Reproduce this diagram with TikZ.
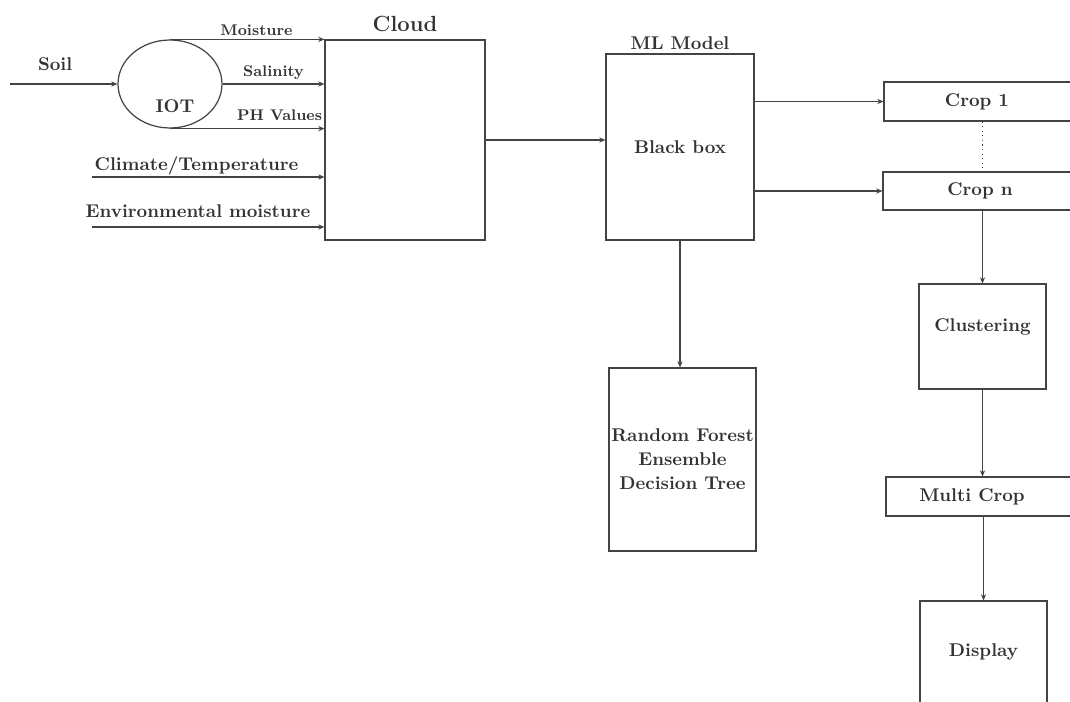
\documentclass[tikz,border=0pt]{standalone}
\usepackage{tikz}
\usetikzlibrary{arrows.meta}
\usetikzlibrary{positioning}
\usetikzlibrary{shapes.geometric}
\definecolor{LineGray}{HTML}{444444}
\definecolor{TextGray}{HTML}{333333}

\begin{document}
\begin{tikzpicture}[x=0.02cm,y=-0.02cm,
	box/.style={draw=LineGray,line width=0.7pt,rectangle,inner sep=0pt,
		font=\fontsize{10.5}{13.7}\selectfont\bfseries,text=TextGray},
	link/.style={draw=LineGray,line width=0.6pt,-{Stealth[length=3.5pt,width=3pt]}},
	tag/.style={font=\fontsize{10.5}{12}\selectfont\bfseries,text=TextGray,inner sep=1pt},
	smalltag/.style={font=\fontsize{8.8}{10}\selectfont\bfseries,text=TextGray,inner sep=1pt},
	]
	\useasboundingbox (0,0) rectangle (1070,702);
	\clip (0,0) rectangle (1070,702);

	% sensors and cloud
	\node[draw=LineGray,ellipse,line width=0.7pt,minimum width=2.08cm,minimum height=1.76cm,inner sep=0pt,
		label={[tag,xshift=0.1cm,yshift=-0.44cm]center:IOT}] (iot) at (170,84) {};
	\node[box,minimum width=3.2cm,minimum height=4cm,
		label={[font=\fontsize{12.5}{14}\selectfont\bfseries,text=TextGray,inner sep=4pt]above:Cloud}] (cloud) at (405,140) {};
	\coordinate (soilsrc) at (10,84);
	\coordinate (climsrc) at (92,177);
	\coordinate (envsrc) at (92,227);

	\draw[link] (soilsrc) -- (iot.west) node[tag,pos=0.42,above=6pt] {Soil};
	\draw[link] (iot.north) -- (iot.north -| cloud.west) node[smalltag,pos=0.56,above=1pt] {Moisture};
	\draw[link] (iot.east) -- (iot.east -| cloud.west) node[smalltag,midway,above=1pt] {Salinity};
	\draw[link] (iot.south) -- (iot.south -| cloud.west) node[smalltag,pos=0.71,above=3pt] {PH Values};
	\draw[link] (climsrc) -- (climsrc -| cloud.west) node[tag,pos=0.45,above=0pt] {Climate/Temperature};
	\draw[link] (envsrc) -- (envsrc -| cloud.west) node[tag,pos=0.456,above=4pt] {Environmental moisture};

	% model and outputs (wide boxes run off the right edge)
	\node[box,minimum width=2.96cm,minimum height=3.72cm,
		label={[tag,inner sep=2pt]above:ML Model}] (ml) at (680,147) {Black box};
	\node[box,minimum width=2.94cm,minimum height=3.66cm,align=center] (rf) at (682.5,459.5)
		{Random Forest\\Ensemble\\Decision Tree};
	\node[box,minimum width=4.72cm,minimum height=0.78cm,
		label={[tag,xshift=-0.5cm]center:Crop 1}] (crop1) at (1002,101.5) {};
	\node[box,minimum width=4.74cm,minimum height=0.76cm,
		label={[tag,xshift=-0.43cm]center:Crop n}] (cropn) at (1001.5,191) {};
	\node[box,minimum width=2.54cm,minimum height=2.1cm,
		label={[tag,yshift=0.19cm]center:Clustering}] (clus) at (982.5,336.5) {};
	\node[box,minimum width=4.68cm,minimum height=0.78cm,
		label={[tag,xshift=-0.62cm]center:Multi Crop}] (multi) at (1003,496.5) {};
	\node[box,minimum width=2.54cm,minimum height=2.04cm] (disp) at (983.5,652) {Display};

	\draw[link] (cloud.east) -- (cloud.east -| ml.west);
	\draw[link] (ml.east |- crop1) -- (crop1.west);
	\draw[link] (ml.east |- cropn) -- (cropn.west);
	\draw[LineGray,line width=0.6pt,dotted] (clus.north |- crop1.south) -- (clus.north |- cropn.north);
	\draw[link] (clus.north |- cropn.south) -- (clus.north);
	\draw[link] (ml.south) -- (ml.south |- rf.north);
	\draw[link] (clus.south) -- (clus.south |- multi.north);
	\draw[link] (disp.north |- multi.south) -- (disp.north);
\end{tikzpicture}
\end{document}
